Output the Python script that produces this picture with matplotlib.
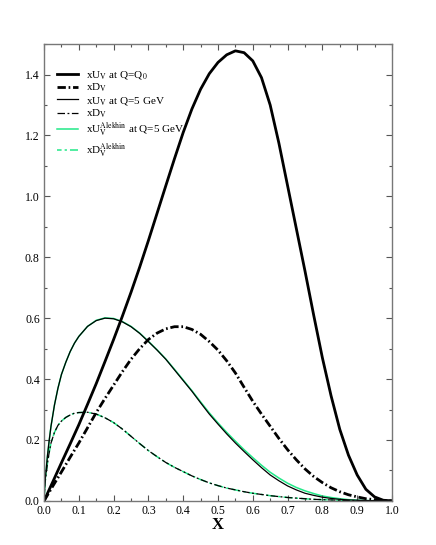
import matplotlib
matplotlib.use("Agg")
import matplotlib.pyplot as plt
from matplotlib.ticker import MultipleLocator

plt.rcParams['font.family'] = ['Liberation Serif', 'DejaVu Serif']
plt.rcParams['mathtext.fontset'] = 'stix'

# x grid for Q0 curves
x_q0 = [0.0, 0.025, 0.05, 0.075, 0.1, 0.125, 0.15, 0.175, 0.2, 0.225, 0.25, 0.275, 0.3,
        0.325, 0.35, 0.375, 0.4, 0.425, 0.45, 0.475, 0.5, 0.525, 0.55, 0.575, 0.6,
        0.625, 0.65, 0.675, 0.7, 0.725, 0.75, 0.775, 0.8, 0.825, 0.85, 0.875, 0.9,
        0.925, 0.95, 0.975, 1.0]
xUv_q0 = [0.0, 0.062, 0.125, 0.187, 0.25, 0.317, 0.385, 0.457, 0.53, 0.606, 0.685, 0.768, 0.855,
          0.945, 1.035, 1.124, 1.21, 1.287, 1.352, 1.403, 1.44, 1.465, 1.478, 1.472, 1.445,
          1.39, 1.30, 1.175, 1.035, 0.895, 0.755, 0.61, 0.47, 0.345, 0.235, 0.15, 0.085,
          0.038, 0.013, 0.002, 0.0]
xDv_q0 = [0.0, 0.048, 0.095, 0.143, 0.19, 0.24, 0.29, 0.336, 0.38, 0.424, 0.465, 0.5, 0.53,
          0.551, 0.565, 0.572, 0.572, 0.563, 0.547, 0.523, 0.495, 0.46, 0.42, 0.373, 0.327,
          0.285, 0.245, 0.205, 0.168, 0.135, 0.105, 0.08, 0.06, 0.043, 0.03, 0.02, 0.013,
          0.007, 0.004, 0.001, 0.0]

# x grid for Q=5 GeV curves
x_q5 = [0.0, 0.0025, 0.005, 0.01, 0.015, 0.02, 0.03, 0.04, 0.05, 0.0625, 0.075, 0.0875, 0.1,
        0.125, 0.15, 0.175, 0.2, 0.225, 0.25, 0.275, 0.3, 0.325, 0.35, 0.375, 0.4, 0.425,
        0.45, 0.475, 0.5, 0.525, 0.55, 0.575, 0.6, 0.625, 0.65, 0.675, 0.7, 0.725, 0.75,
        0.775, 0.8, 0.825, 0.85, 0.875, 0.9, 0.925, 0.95, 0.975, 1.0]
xUv_q5 = [0.0, 0.06, 0.09, 0.15, 0.2, 0.245, 0.315, 0.37, 0.415, 0.455, 0.49, 0.518, 0.54,
          0.573, 0.592, 0.6, 0.598, 0.588, 0.572, 0.55, 0.523, 0.495, 0.465, 0.43, 0.395, 0.36,
          0.322, 0.285, 0.252, 0.22, 0.19, 0.162, 0.135, 0.109, 0.085, 0.066, 0.049, 0.036, 0.025,
          0.018, 0.012, 0.008, 0.005, 0.003, 0.002, 0.001, 0.0005, 0.0001, 0.0]
xDv_q5 = [0.0, 0.055, 0.08, 0.125, 0.16, 0.19, 0.225, 0.248, 0.262, 0.274, 0.282, 0.288, 0.29,
          0.291, 0.285, 0.273, 0.257, 0.236, 0.212, 0.188, 0.165, 0.145, 0.126, 0.11, 0.096, 0.082,
          0.07, 0.059, 0.05, 0.042, 0.036, 0.03, 0.025, 0.021, 0.017, 0.014, 0.011, 0.009, 0.007,
          0.005, 0.004, 0.003, 0.002, 0.0015, 0.001, 0.0006, 0.0003, 0.0001, 0.0]
xUv_alekhin = [0.0, 0.06, 0.09, 0.15, 0.2, 0.245, 0.315, 0.37, 0.415, 0.455, 0.49, 0.518, 0.54,
               0.573, 0.593, 0.601, 0.599, 0.589, 0.573, 0.551, 0.524, 0.496, 0.466, 0.432, 0.397, 0.362,
               0.325, 0.289, 0.256, 0.225, 0.196, 0.168, 0.142, 0.117, 0.094, 0.075, 0.058, 0.044, 0.033,
               0.024, 0.016, 0.011, 0.007, 0.004, 0.002, 0.001, 0.0005, 0.0001, 0.0]
xDv_alekhin = [0.0, 0.055, 0.08, 0.125, 0.16, 0.19, 0.225, 0.248, 0.262, 0.274, 0.282, 0.288, 0.29,
               0.291, 0.285, 0.273, 0.257, 0.236, 0.212, 0.188, 0.165, 0.145, 0.126, 0.11, 0.096, 0.082,
               0.07, 0.059, 0.05, 0.042, 0.036, 0.03, 0.025, 0.021, 0.017, 0.014, 0.011, 0.009, 0.007,
               0.005, 0.004, 0.003, 0.002, 0.0015, 0.001, 0.0006, 0.0003, 0.0001, 0.0]

labels = [r"xU$_\mathrm{V}$ at Q=Q$_0$",
          r"xD$_\mathrm{V}$",
          r"xU$_\mathrm{V}$ at Q=5 GeV",
          r"xD$_\mathrm{V}$",
          r"xU$_\mathrm{V}^\mathrm{Alekhin}$ at Q=5 GeV",
          r"xD$_\mathrm{V}^\mathrm{Alekhin}$"]

green = '#22e888'
fig = plt.figure(figsize=(4.36, 5.45), dpi=100)
ax = fig.add_axes([0.101, 0.081, 0.798, 0.838])

h = []
h += ax.plot(x_q0, xUv_q0, color='black', lw=2.0, label=labels[0])
h += ax.plot(x_q0, xDv_q0, color='black', lw=2.0, ls=(0, (3, 1, 0.6, 1)), label=labels[1])
h += ax.plot(x_q5, xUv_q5, color='black', lw=0.9, label=labels[2])
h += ax.plot(x_q5, xDv_q5, color='black', lw=0.9, ls=(0, (6, 2, 1.5, 2)), label=labels[3])
h += ax.plot(x_q5, xUv_alekhin, color=green, lw=1.1, label=labels[4], zorder=1.5)
h += ax.plot(x_q5, xDv_alekhin, color=green, lw=1.1, ls=(3, (6, 2, 1.5, 2)), label=labels[5], zorder=1.5)

ax.set_xlim(0, 1.0)
ax.set_ylim(0, 1.5)
ax.xaxis.set_major_locator(MultipleLocator(0.1))
ax.xaxis.set_minor_locator(MultipleLocator(0.05))
ax.yaxis.set_major_locator(MultipleLocator(0.2))
ax.yaxis.set_minor_locator(MultipleLocator(0.1))
ax.xaxis.set_major_formatter(plt.FuncFormatter(lambda v, p: f"{v:.1f}"))
ax.yaxis.set_major_formatter(plt.FuncFormatter(lambda v, p: f"{v:.1f}"))
ax.tick_params(which='both', direction='in', top=True, right=True, labelsize=8.5,
               color='#555555', width=0.8)
ax.tick_params(which='major', length=4, pad=3)
ax.tick_params(which='minor', length=2)
for s in ax.spines.values():
    s.set_color('#777777')
    s.set_linewidth(1.0)

ax.set_xlabel('X', fontsize=12, fontweight='bold', labelpad=0)

leg1 = ax.legend(handles=h[:5], loc='upper left', bbox_to_anchor=(0.015, 0.962), frameon=False,
                 fontsize=8, handlelength=1.9, handletextpad=0.7, labelspacing=0.05,
                 borderaxespad=0.3)
ax.add_artist(leg1)
ax.legend(handles=h[5:], loc='center left', bbox_to_anchor=(0.015, 0.768), frameon=False,
          fontsize=8, handlelength=1.9, handletextpad=0.7, borderaxespad=0.3)

fig.savefig('out.png', dpi=100)
